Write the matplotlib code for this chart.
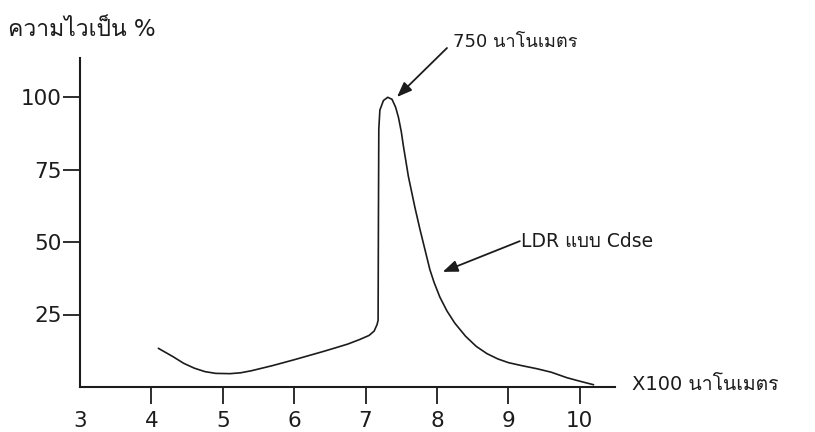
import matplotlib
matplotlib.use("Agg")
import matplotlib.pyplot as plt
from matplotlib import font_manager
from matplotlib.ft2font import FT2Font

# ---- data ----
wavelength = [4.10, 4.30, 4.45, 4.60, 4.75, 4.90, 5.10, 5.25, 5.40, 5.55, 5.70,
              5.85, 6.00, 6.20, 6.40, 6.55, 6.75, 6.92, 7.05, 7.12, 7.16, 7.175,
              7.18, 7.185, 7.20, 7.25, 7.31, 7.37, 7.42, 7.46, 7.50, 7.53, 7.60,
              7.69, 7.76, 7.84, 7.90, 7.96, 8.04, 8.14, 8.25, 8.40, 8.55, 8.70,
              8.85, 9.00, 9.20, 9.40, 9.60, 9.82, 10.00, 10.19]
sensitivity = [13.3, 10.5, 8.2, 6.5, 5.3, 4.7, 4.6, 4.9, 5.6, 6.5, 7.4,
               8.4, 9.4, 10.8, 12.2, 13.3, 14.8, 16.4, 17.8, 19.3, 21.5, 23.0,
               60.0, 89.0, 95.5, 98.8, 99.9, 99.2, 96.5, 93.0, 88.0, 83.0, 72.5,
               62.0, 54.5, 46.5, 40.5, 36.0, 31.0, 26.2, 22.0, 17.5, 14.0, 11.5,
               9.7, 8.4, 7.3, 6.3, 5.1, 3.2, 2.0, 0.8]
xticks = [3, 4, 5, 6, 7, 8, 9, 10]
xtick_labels = ["3", "4", "5", "6", "7", "8", "9", "10"]
yticks = [25, 50, 75, 100]
ytick_labels = ["25", "50", "75", "100"]
ylabel = "ความไวเป็น %"
xlabel = "X100 นาโนเมตร"
peak_label = "750 นาโนเมตร"
curve_label = "LDR แบบ Cdse"
peak_point = (7.44, 100.0)
curve_point = (8.08, 39.7)

# ---- find a font with Thai glyphs ----
thai_font = None
for fe in font_manager.fontManager.ttflist:
    try:
        cm = FT2Font(fe.fname).get_charmap()
        if 0x0E04 in cm and 0x0E32 in cm and 0x0E19 in cm:
            thai_font = fe.name
            if "sans" in fe.name.lower() or "loma" in fe.name.lower():
                break
    except Exception:
        pass
families = ["DejaVu Sans"] + ([thai_font] if thai_font else [])
plt.rcParams["font.family"] = families

ink = "#1c1c1c"
W, H = 815, 432
fig = plt.figure(figsize=(W / 100, H / 100), dpi=100)
fig.patch.set_facecolor("white")

# axes: x=3 at px 80, x-axis at py 387, right end px 615, top py 58
ax = fig.add_axes([80 / W, (H - 387) / H, (615 - 80) / W, (387 - 58) / H])
ax.set_xlim(3, 3 + (615 - 80) / 71.4)
ax.set_ylim(0, (387 - 58) / 2.9)

ax.plot(wavelength, sensitivity, color=ink, lw=1.2, solid_joinstyle="round")

for s in ["top", "right"]:
    ax.spines[s].set_visible(False)
for s in ["left", "bottom"]:
    ax.spines[s].set_linewidth(1.5)
    ax.spines[s].set_color(ink)

ax.set_xticks(xticks)
ax.set_xticklabels(xtick_labels)
ax.set_yticks(yticks)
ax.set_yticklabels(ytick_labels)
ax.tick_params(axis="x", direction="out", length=12.5, width=1.3, color=ink,
               labelsize=15.5, labelcolor=ink, pad=5)
ax.tick_params(axis="y", direction="out", length=12, width=1.3, color=ink,
               labelsize=15.5, labelcolor=ink, pad=1)
ax.xaxis.get_major_ticks()[0].tick1line.set_visible(False)

arrow_kw = dict(arrowstyle="-|>,head_length=0.9,head_width=0.35", color=ink,
                lw=1.3, shrinkA=0, shrinkB=0)
ax.annotate("", xy=peak_point, xytext=(8.14, 116.9), arrowprops=arrow_kw,
            annotation_clip=False)
ax.text(8.22, 118.8, peak_label, fontsize=13, color=ink, ha="left",
        va="center", clip_on=False)
ax.annotate("", xy=curve_point, xytext=(9.16, 50.3), arrowprops=arrow_kw,
            annotation_clip=False)
ax.text(9.17, 50.3, curve_label, fontsize=13.5, color=ink, ha="left",
        va="center", clip_on=False)

fig.text(8 / W, 1 - 30 / H, ylabel, fontsize=16.5, color=ink, ha="left", va="center")
fig.text(632 / W, 1 - 384 / H, xlabel, fontsize=14, color=ink, ha="left", va="center")

fig.savefig("out.png", dpi=100, facecolor="white")
